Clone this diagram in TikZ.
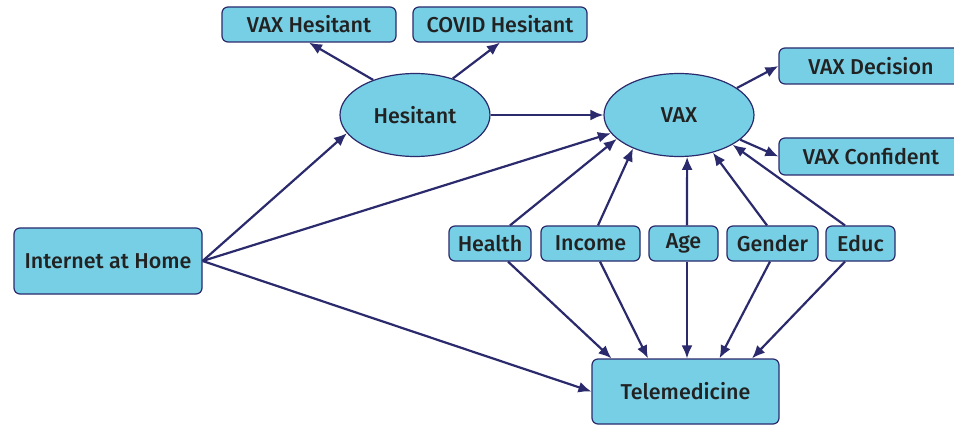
\documentclass[tikz,border=0pt]{standalone}
\usepackage{fontspec}
\setmainfont{Fira Sans Medium}
\usetikzlibrary{arrows.meta,shapes.geometric}

\definecolor{boxblue}{HTML}{76CFE5}
\definecolor{navy}{HTML}{2A2A6C}
\definecolor{ink}{HTML}{222222}

\tikzset{
  var/.style={draw=navy,line width=1.2pt,fill=boxblue,rounded corners=6pt,
    text=ink,font=\fontsize{21.5}{24}\selectfont,inner sep=0pt},
  latent/.style={ellipse,draw=navy,line width=1.2pt,fill=boxblue,text=ink,
    font=\fontsize{21.5}{24}\selectfont,minimum width=150pt,minimum height=83pt},
  path/.style={draw=navy,line width=2.2pt,-{Latex[length=13pt,width=11pt]}}
}

\begin{document}
\begin{tikzpicture}[x=1pt,y=-1pt]
\useasboundingbox (0,0) rectangle (954,425);
% outcome boxes
\node[var,minimum width=174pt,minimum height=35pt] (vaxh) at (309,24.5) {VAX Hesitant};
\node[var,minimum width=174pt,minimum height=35pt] (covh) at (500,24.5) {COVID Hesitant};
\node[var,minimum width=184pt,minimum height=36pt] (vaxd) at (871,66) {VAX Decision};
\node[var,minimum width=184pt,minimum height=37pt] (vaxc) at (871,156.5) {VAX Confident};
% latent variables
\node[latent] (hes) at (415,115) {Hesitant};
\node[latent] (vax) at (679,115) {VAX};
% exposure and outcome
\node[var,minimum width=188pt,minimum height=66pt] (inet) at (108,261) {Internet at Home};
\node[var,minimum width=187pt,minimum height=65pt] (tele) at (685.5,391.5) {Telemedicine};
% covariates
\node[var,minimum width=82pt,minimum height=35pt] (health) at (490,243.5) {Health};
\node[var,minimum width=99pt,minimum height=35pt] (income) at (590.5,243.5) {Income};
\node[var,minimum width=69pt,minimum height=35pt] (age) at (683.5,243.5) {Age};
\node[var,minimum width=91pt,minimum height=35pt] (gender) at (772.5,243.5) {Gender};
\node[var,minimum width=69pt,minimum height=35pt] (educ) at (860.5,243.5) {Educ};

\draw[path] (hes.140) -- (vaxh.south);
\draw[path] (hes.44) -- (covh.south);
\draw[path] (hes.east) -- (vax.west);
\draw[path] (vax.25) -- (vaxd.west);
\draw[path] (vax.-22) -- (vaxc.west);
\draw[path] (inet.east) -- (hes.195);
\draw[path] (inet.east) -- (vax.195);
\draw[path] (inet.east) -- (tele.west);
% covariates point to VAX and Telemedicine
\foreach \c/\up/\dn/\a/\t in {health/20/18/201/-74, income/7.5/9.5/216/-37.5,
    age/3.5/3.5/281/1.5, gender/-5.5/-2.5/312/34, educ/-15.5/-15.5/331/66.5}{
  \draw[path] ([xshift=\up pt]\c.north) -- (vax.\a);
  \draw[path] ([xshift=\dn pt]\c.south) -- ([xshift=\t pt]tele.north);
}
\end{tikzpicture}
\end{document}
